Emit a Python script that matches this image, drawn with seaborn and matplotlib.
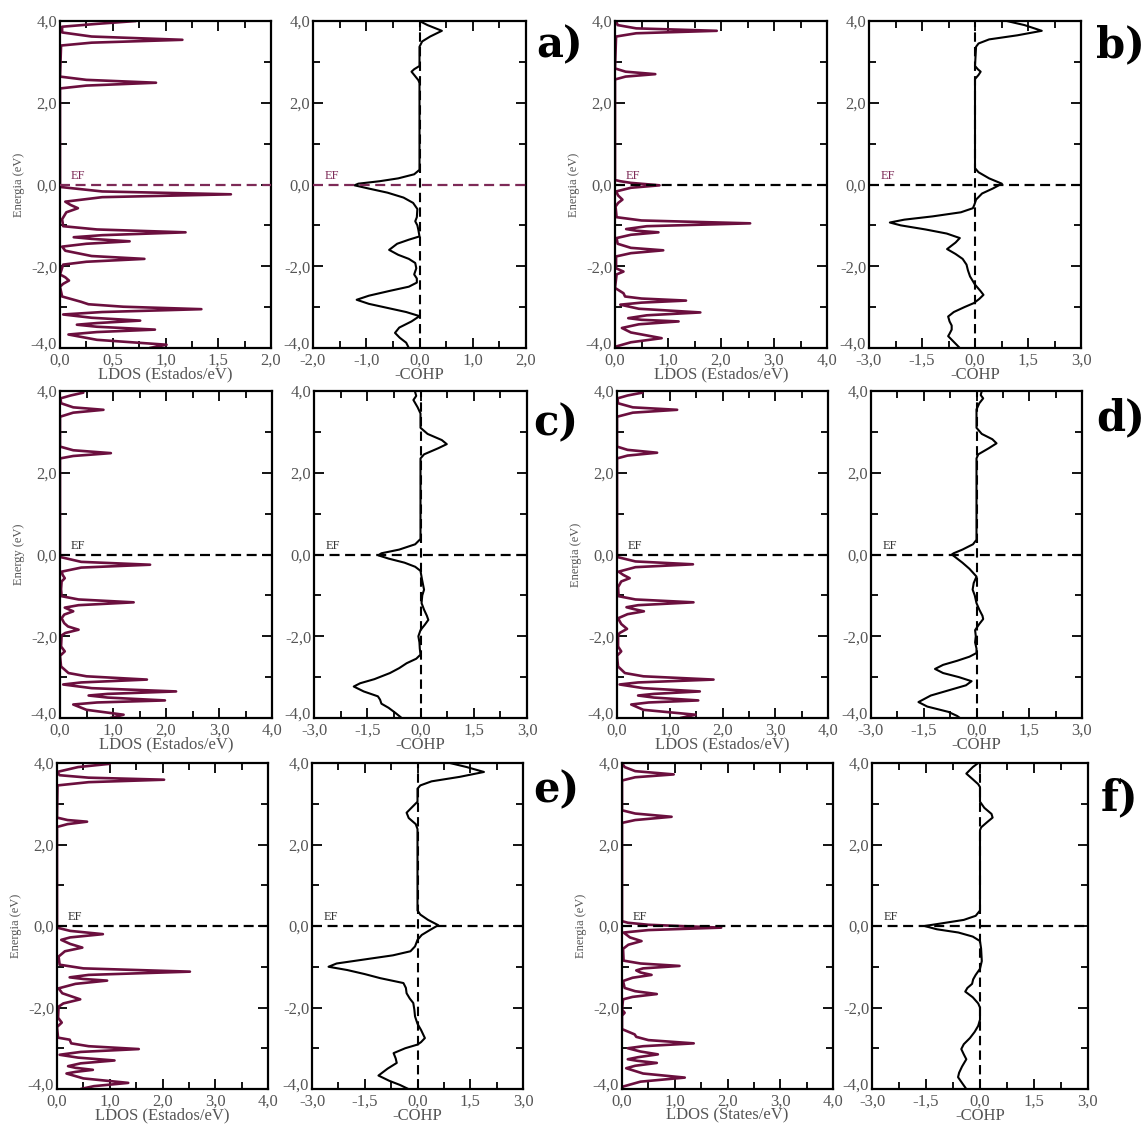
import numpy as np
import pandas as pd
import matplotlib
matplotlib.use("Agg")
import matplotlib.pyplot as plt
import matplotlib.transforms as mtransforms
import seaborn as sns
from matplotlib.ticker import FuncFormatter, MultipleLocator

# ---------------- data (energy in eV, value) ----------------
a_ldos = [(4.0,0.72),(3.93,0.35),(3.86,0.02),(3.72,0.02),(3.62,0.30),(3.54,1.16),(3.47,0.30),(3.40,0.01),
          (2.64,0.0),(2.56,0.25),(2.49,0.91),(2.42,0.25),(2.35,0.0),(-0.06,0.0),(-0.17,0.40),(-0.24,1.62),
          (-0.31,0.40),(-0.42,0.05),(-0.50,0.10),(-0.58,0.17),(-0.68,0.06),(-0.85,0.02),(-1.02,0.03),(-1.10,0.35),
          (-1.17,1.19),(-1.24,0.40),(-1.29,0.13),(-1.33,0.30),(-1.39,0.66),(-1.45,0.25),(-1.52,0.02),(-1.62,0.05),
          (-1.75,0.30),(-1.82,0.80),(-1.89,0.25),(-1.96,0.03),(-2.2,0.0),(-2.27,0.05),(-2.35,0.085),(-2.43,0.03),
          (-2.5,0.0),(-2.74,0.02),(-2.87,0.20),(-2.93,0.27),(-2.99,0.60),(-3.05,1.34),(-3.12,0.40),(-3.18,0.03),
          (-3.26,0.30),(-3.33,0.76),(-3.39,0.35),(-3.43,0.16),(-3.48,0.35),(-3.55,0.90),(-3.61,0.35),(-3.67,0.08),
          (-3.80,0.35),(-3.92,1.01),(-4.0,0.85)]
a_cohp = [(4.0,0.0),(3.9,0.15),(3.76,0.42),(3.62,0.2),(3.5,0.05),(3.37,0.0),(2.9,0.0),(2.82,-0.1),(2.76,-0.15),
          (2.68,-0.1),(2.55,-0.02),(2.48,0.0),(0.36,0.0),(0.25,-0.1),(0.15,-0.4),(0.08,-0.75),(0.02,-1.15),
          (-0.02,-1.22),(-0.1,-0.95),(-0.2,-0.6),(-0.32,-0.3),(-0.45,-0.12),(-0.6,-0.04),(-0.8,-0.05),(-0.9,-0.08),
          (-1.0,-0.04),(-1.12,-0.02),(-1.27,0.0),(-1.35,-0.2),(-1.45,-0.42),(-1.6,-0.57),(-1.72,-0.4),(-1.82,-0.2),
          (-1.92,-0.08),(-2.05,-0.06),(-2.2,-0.1),(-2.3,-0.05),(-2.4,-0.05),(-2.5,-0.2),(-2.6,-0.55),(-2.72,-0.95),
          (-2.82,-1.18),(-2.92,-0.95),(-3.02,-0.6),(-3.12,-0.25),(-3.22,0.0),(-3.35,-0.15),(-3.5,-0.38),(-3.63,-0.46),
          (-3.75,-0.37),(-3.87,-0.25),(-4.0,-0.2)]

b_ldos = [(4.0,0.02),(3.9,0.05),(3.82,0.4),(3.76,1.92),(3.70,0.4),(3.62,0.02),(2.84,0.0),(2.76,0.2),(2.70,0.76),
          (2.64,0.2),(2.57,0.0),(0.11,0.0),(0.08,0.1),(0.04,0.3),(-0.02,0.84),(-0.08,0.3),(-0.17,0.02),(-0.27,0.06),
          (-0.37,0.14),(-0.45,0.06),(-0.54,0.01),(-0.8,0.03),(-0.88,0.5),(-0.95,2.55),(-1.02,0.6),(-1.09,0.21),
          (-1.13,0.4),(-1.17,0.82),(-1.23,0.3),(-1.31,0.03),(-1.45,0.05),(-1.55,0.3),(-1.61,0.91),(-1.68,0.3),
          (-1.76,0.02),(-2.05,0.02),(-2.13,0.16),(-2.2,0.03),(-2.53,0.0),(-2.66,0.16),(-2.74,0.19),(-2.79,0.5),
          (-2.84,1.34),(-2.89,0.5),(-2.94,0.1),(-3.04,0.45),(-3.13,1.61),(-3.2,0.6),(-3.27,0.25),(-3.31,0.5),
          (-3.35,1.2),(-3.42,0.45),(-3.51,0.13),(-3.62,0.3),(-3.76,0.88),(-3.86,0.3),(-3.96,0.03),(-4.0,0.02)]
b_cohp = [(4.0,0.9),(3.9,1.4),(3.76,1.89),(3.65,1.2),(3.55,0.4),(3.45,0.1),(3.37,0.03),(2.9,0.0),(2.82,0.08),
          (2.76,0.16),(2.68,0.1),(2.58,0.0),(0.4,0.0),(0.3,0.1),(0.15,0.4),(0.02,0.76),(-0.1,0.5),(-0.22,0.2),
          (-0.37,0.03),(-0.5,-0.02),(-0.58,-0.06),(-0.68,-0.4),(-0.78,-1.2),(-0.86,-2.0),(-0.93,-2.41),(-1.0,-2.1),
          (-1.1,-1.4),(-1.2,-0.8),(-1.31,-0.43),(-1.42,-0.55),(-1.58,-0.79),(-1.7,-0.55),(-1.82,-0.35),(-1.96,-0.24),
          (-2.1,-0.2),(-2.25,-0.14),(-2.45,0.0),(-2.6,0.15),(-2.7,0.24),(-2.8,0.12),(-2.9,-0.03),(-3.0,-0.3),
          (-3.12,-0.6),(-3.23,-0.76),(-3.35,-0.72),(-3.45,-0.66),(-3.55,-0.66),(-3.65,-0.72),(-3.71,-0.76),
          (-3.85,-0.6),(-4.0,-0.43)]

c_ldos = [(4.0,0.4),(3.96,0.44),(3.89,0.2),(3.82,0.01),(3.7,0.02),(3.6,0.25),(3.54,0.82),(3.47,0.25),(3.37,0.0),
          (2.64,0.0),(2.55,0.25),(2.48,0.96),(2.41,0.25),(2.35,0.0),(-0.06,0.0),(-0.18,0.4),(-0.25,1.70),(-0.32,0.4),
          (-0.42,0.03),(-0.5,0.05),(-0.58,0.09),(-0.66,0.03),(-0.85,0.02),(-1.02,0.03),(-1.1,0.35),(-1.17,1.39),
          (-1.24,0.35),(-1.30,0.09),(-1.39,0.25),(-1.47,0.08),(-1.56,0.03),(-1.68,0.08),(-1.76,0.15),(-1.84,0.35),
          (-1.92,0.1),(-1.98,0.03),(-2.25,0.02),(-2.37,0.09),(-2.48,0.0),(-2.74,0.02),(-2.9,0.16),(-2.98,0.5),
          (-3.06,1.64),(-3.13,0.4),(-3.18,0.06),(-3.27,0.6),(-3.35,2.19),(-3.41,0.9),(-3.45,0.54),(-3.5,0.9),
          (-3.57,1.98),(-3.62,0.7),(-3.67,0.25),(-3.8,0.5),(-3.92,1.2),(-4.0,0.95)]
c_cohp = [(4.0,-0.16),(3.88,-0.12),(3.78,-0.2),(3.6,-0.08),(3.45,0.0),(3.1,0.0),(2.95,0.2),(2.8,0.6),(2.70,0.74),
          (2.6,0.5),(2.45,0.1),(2.35,0.0),(0.38,0.0),(0.25,-0.15),(0.12,-0.6),(0.03,-1.1),(-0.02,-1.19),(-0.1,-0.9),
          (-0.2,-0.45),(-0.3,-0.15),(-0.4,0.0),(-0.6,0.04),(-0.86,0.1),(-1.0,0.05),(-1.19,0.03),(-1.35,0.1),
          (-1.5,0.18),(-1.6,0.22),(-1.72,0.12),(-1.85,0.0),(-2.0,-0.06),(-2.15,-0.03),(-2.3,-0.02),(-2.45,0.0),
          (-2.55,-0.12),(-2.66,-0.39),(-2.78,-0.6),(-2.9,-0.86),(-3.05,-1.3),(-3.15,-1.7),(-3.23,-1.88),(-3.35,-1.6),
          (-3.47,-1.2),(-3.55,-1.14),(-3.65,-1.1),(-3.75,-0.9),(-3.88,-0.7),(-4.0,-0.53)]

d_ldos = [(4.0,0.45),(3.96,0.48),(3.89,0.2),(3.82,0.01),(3.7,0.02),(3.6,0.3),(3.54,1.14),(3.47,0.3),(3.37,0.0),
          (2.64,0.0),(2.56,0.2),(2.49,0.76),(2.42,0.2),(2.35,0.0),(-0.06,0.0),(-0.17,0.35),(-0.24,1.44),(-0.31,0.35),
          (-0.42,0.03),(-0.5,0.12),(-0.58,0.24),(-0.66,0.08),(-0.8,0.02),(-1.02,0.03),(-1.1,0.35),(-1.17,1.45),
          (-1.24,0.4),(-1.29,0.18),(-1.33,0.3),(-1.39,0.51),(-1.46,0.2),(-1.56,0.02),(-1.7,0.08),(-1.82,0.19),
          (-1.92,0.05),(-1.98,0.02),(-2.25,0.02),(-2.37,0.08),(-2.48,0.0),(-2.74,0.02),(-2.9,0.15),(-2.98,0.5),
          (-3.06,1.83),(-3.13,0.4),(-3.18,0.05),(-3.27,0.5),(-3.35,1.57),(-3.41,0.7),(-3.45,0.4),(-3.5,0.7),
          (-3.57,1.54),(-3.62,0.6),(-3.67,0.27),(-3.8,0.5),(-3.92,1.49),(-4.0,1.2)]
d_cohp = [(4.0,0.15),(3.9,0.12),(3.82,0.19),(3.7,0.08),(3.55,0.0),(3.1,0.0),(2.95,0.15),(2.82,0.45),(2.72,0.57),
          (2.6,0.35),(2.45,0.05),(2.35,0.0),(0.36,0.0),(0.25,-0.1),(0.12,-0.4),(0.03,-0.65),(0.0,-0.7),(-0.1,-0.55),
          (-0.2,-0.4),(-0.35,-0.2),(-0.54,0.0),(-0.7,-0.08),(-0.86,-0.11),(-1.0,-0.05),(-1.19,0.0),(-1.35,0.08),
          (-1.5,0.17),(-1.58,0.19),(-1.7,0.08),(-1.85,-0.04),(-2.0,-0.02),(-2.15,-0.04),(-2.3,0.0),(-2.41,0.0),
          (-2.5,-0.2),(-2.6,-0.55),(-2.7,-0.95),(-2.8,-1.18),(-2.9,-0.95),(-3.0,-0.5),(-3.1,-0.14),(-3.2,-0.3),
          (-3.3,-0.7),(-3.45,-1.3),(-3.61,-1.65),(-3.72,-1.4),(-3.85,-0.8),(-3.95,-0.55),(-4.0,-0.47)]

e_ldos = [(4.0,0.9),(3.98,1.0),(3.9,0.4),(3.78,0.0),(3.7,0.05),(3.64,0.6),(3.59,2.03),(3.53,0.6),(3.45,0.01),
          (2.66,0.0),(2.6,0.2),(2.56,0.57),(2.5,0.2),(2.43,0.0),(-0.04,0.0),(-0.12,0.25),(-0.2,0.87),(-0.28,0.25),
          (-0.34,0.08),(-0.44,0.25),(-0.53,0.48),(-0.62,0.15),(-0.75,0.03),(-0.95,0.05),(-1.04,0.5),(-1.12,2.52),
          (-1.2,0.6),(-1.26,0.24),(-1.3,0.5),(-1.34,0.95),(-1.42,0.35),(-1.53,0.03),(-1.65,0.1),(-1.8,0.44),
          (-1.9,0.12),(-1.98,0.03),(-2.25,0.02),(-2.37,0.09),(-2.48,0.0),(-2.74,0.02),(-2.79,0.24),(-2.88,0.27),
          (-2.95,0.6),(-3.02,1.55),(-3.09,0.45),(-3.16,0.05),(-3.23,0.4),(-3.3,1.09),(-3.37,0.45),(-3.44,0.21),
          (-3.48,0.35),(-3.53,0.68),(-3.58,0.35),(-3.62,0.18),(-3.74,0.5),(-3.85,1.35),(-3.93,0.7),(-4.0,0.45)]
e_cohp = [(4.0,0.92),(3.9,1.4),(3.78,1.89),(3.66,1.2),(3.55,0.4),(3.45,0.08),(3.37,0.0),(3.05,0.0),(2.92,-0.15),
          (2.78,-0.31),(2.65,-0.25),(2.5,-0.05),(2.38,0.0),(0.38,0.0),(0.28,0.08),(0.15,0.3),(0.02,0.59),(-0.1,0.35),
          (-0.22,0.12),(-0.34,0.0),(-0.5,-0.07),(-0.62,-0.2),(-0.72,-0.7),(-0.82,-1.5),(-0.92,-2.3),(-1.0,-2.53),
          (-1.08,-2.0),(-1.18,-1.5),(-1.28,-1.06),(-1.4,-0.4),(-1.52,-0.33),(-1.65,-0.31),(-1.78,-0.22),(-1.89,-0.12),
          (-2.05,-0.09),(-2.22,-0.07),(-2.4,0.0),(-2.55,0.1),(-2.75,0.21),(-2.85,0.1),(-2.91,0.0),(-3.0,-0.35),
          (-3.12,-0.68),(-3.25,-0.62),(-3.36,-0.59),(-3.5,-0.85),(-3.67,-1.11),(-3.8,-0.8),(-3.9,-0.5),(-4.0,-0.26)]

f_ldos = [(4.0,0.0),(3.9,0.05),(3.8,0.25),(3.72,0.98),(3.65,0.25),(3.57,0.0),(2.84,0.0),(2.76,0.25),(2.68,0.94),
          (2.6,0.25),(2.53,0.0),(0.12,0.0),(0.08,0.11),(0.03,0.5),(-0.04,1.88),(-0.1,0.5),(-0.16,0.03),(-0.28,0.15),
          (-0.37,0.37),(-0.46,0.12),(-0.56,0.02),(-0.85,0.03),(-0.92,0.35),(-0.98,1.09),(-1.04,0.4),(-1.09,0.27),
          (-1.14,0.35),(-1.2,0.56),(-1.27,0.2),(-1.35,0.02),(-1.52,0.05),(-1.6,0.25),(-1.67,0.66),(-1.74,0.2),
          (-1.8,0.02),(-2.05,0.0),(-2.13,0.05),(-2.2,0.0),(-2.53,0.0),(-2.66,0.24),(-2.72,0.27),(-2.8,0.5),
          (-2.88,1.36),(-2.95,0.4),(-3.0,0.11),(-3.08,0.35),(-3.15,0.68),(-3.22,0.3),(-3.27,0.11),(-3.31,0.3),
          (-3.36,0.66),(-3.43,0.25),(-3.49,0.08),(-3.62,0.4),(-3.72,1.19),(-3.82,0.35),(-3.94,0.02),(-4.0,0.0)]
f_cohp = [(4.0,-0.05),(3.9,-0.2),(3.74,-0.38),(3.6,-0.2),(3.48,-0.05),(3.41,0.0),(3.05,0.0),(2.9,0.12),(2.75,0.32),
          (2.66,0.35),(2.55,0.2),(2.42,0.03),(2.35,0.0),(0.38,0.0),(0.25,-0.12),(0.15,-0.45),(0.06,-1.1),(0.0,-1.54),
          (-0.08,-1.2),(-0.16,-0.6),(-0.26,-0.2),(-0.37,0.0),(-0.55,0.03),(-0.86,0.05),(-1.05,0.0),(-1.2,-0.12),
          (-1.31,-0.19),(-1.42,-0.22),(-1.52,-0.35),(-1.61,-0.41),(-1.75,-0.2),(-1.9,-0.05),(-2.0,0.0),(-2.3,0.0),
          (-2.45,-0.05),(-2.6,-0.15),(-2.75,-0.28),(-2.9,-0.45),(-3.02,-0.52),(-3.15,-0.45),(-3.27,-0.38),
          (-3.45,-0.5),(-3.6,-0.58),(-3.71,-0.61),(-3.85,-0.5),(-4.0,-0.38)]

panel_letters = ["a)", "b)", "c)", "d)", "e)", "f)"]
ldos_xlabels = ["LDOS (Estados/eV)"] * 5 + ["LDOS (States/eV)"]
ylabels = ["Energia (eV)", "Energia (eV)", "Energy (eV)", "Energia (eV)", "Energia (eV)", "Energia (eV)"]
cohp_xlabel = "-COHP"

# ---------------- style ----------------
sns.set_theme(style="ticks")
plt.rcParams["font.family"] = ["Liberation Serif", "DejaVu Serif"]

W, H = 1146, 1124
fig = plt.figure(figsize=(W / 100, H / 100), dpi=100)

LDOS_COLOR = "#6b0f3e"
EF_PURPLE = "#7d2a57"
GRAY = "#555555"

def comma(v, pos):
    s = f"{v:.1f}".replace(".", ",")
    return "0,0" if s == "-0,0" else s

rows = [(21, 348), (391, 718), (763, 1089)]
cols = [[(60, 271), (313, 526), (615, 827), (869, 1081)],
        [(60, 272), (314, 527), (617, 828), (871, 1082)],
        [(57, 268), (312, 523), (622, 833), (872, 1088)]]
letter_pos = [(536, 45), (1096, 45), (533, 423), (1096, 418), (533, 790), (1101, 798)]

panels = [(a_ldos, a_cohp), (b_ldos, b_cohp), (c_ldos, c_cohp),
          (d_ldos, d_cohp), (e_ldos, e_cohp), (f_ldos, f_cohp)]

def make_ax(px, row):
    (l, r), (t, b) = px, rows[row]
    return fig.add_axes([l / W, 1 - b / H, (r - l) / W, (b - t) / H])

lift = mtransforms.ScaledTranslation(0, 5 / 100, fig.dpi_scale_trans)

def style_ax(ax, xlim, xmaj, xmin):
    ax.set_xlim(*xlim)
    ax.set_ylim(-4, 4)
    ax.xaxis.set_major_locator(MultipleLocator(xmaj))
    ax.xaxis.set_minor_locator(MultipleLocator(xmin))
    ax.yaxis.set_major_locator(MultipleLocator(2))
    ax.yaxis.set_minor_locator(MultipleLocator(1))
    ax.xaxis.set_major_formatter(FuncFormatter(comma))
    ax.yaxis.set_major_formatter(FuncFormatter(comma))
    ax.tick_params(which="both", direction="in", top=True, right=True,
                   color="black", labelcolor=GRAY, labelsize=12, width=1.3)
    ax.tick_params(axis="x", which="major", pad=3)
    ax.tick_params(axis="y", which="major", pad=2)
    ax.tick_params(which="major", length=7)
    ax.tick_params(which="minor", length=5)
    for s in ax.spines.values():
        s.set_linewidth(1.6)
        s.set_color("black")
    # lift the bottom y tick label slightly so it clears the x tick labels
    locs = list(ax.yaxis.get_majorticklocs())
    ticks = ax.yaxis.get_major_ticks(len(locs))
    idx = min(range(len(locs)), key=lambda k: abs(locs[k] + 4.0))
    lab = ticks[idx].label1
    lab.set_transform(lab.get_transform() + lift)

dash = (0, (4.5, 2.5))

for i, (ldos, cohp) in enumerate(panels):
    row = i // 2
    c0 = (i % 2) * 2
    # LDOS
    ax1 = make_ax(cols[row][c0], row)
    df1 = pd.DataFrame(ldos, columns=["E", "v"])
    sns.lineplot(data=df1, x="v", y="E", sort=False, estimator=None,
                 color=LDOS_COLOR, lw=1.9, ax=ax1)
    ef_line_color = EF_PURPLE if i == 0 else "black"
    ef_text_color = EF_PURPLE if i in (0, 1) else "#333333"
    ax1.axhline(0, color=ef_line_color, lw=1.6, ls=dash, zorder=3)
    if i == 0:
        style_ax(ax1, (0, 2), 0.5, 0.25)
    else:
        style_ax(ax1, (0, 4), 1.0, 0.5)
    tr = mtransforms.blended_transform_factory(ax1.transAxes, ax1.transData)
    ax1.text(0.05, 0.07, "EF", transform=tr, color=ef_text_color, fontsize=9, va="bottom")
    ax1.set_xlabel(ldos_xlabels[i], fontsize=12, color=GRAY, labelpad=-1)
    ax1.set_ylabel(ylabels[i], fontsize=9, color=GRAY, labelpad=4)

    # COHP
    ax2 = make_ax(cols[row][c0 + 1], row)
    df2 = pd.DataFrame(cohp, columns=["E", "v"])
    sns.lineplot(data=df2, x="v", y="E", sort=False, estimator=None,
                 color="black", lw=1.5, ax=ax2)
    ax2.axvline(0, color="black", lw=1.5, ls=dash, zorder=3)
    ax2.axhline(0, color=ef_line_color, lw=1.6, ls=dash, zorder=3)
    if i == 0:
        style_ax(ax2, (-2, 2), 1.0, 0.5)
    else:
        style_ax(ax2, (-3, 3), 1.5, 0.75)
    tr2 = mtransforms.blended_transform_factory(ax2.transAxes, ax2.transData)
    ax2.text(0.055, 0.07, "EF", transform=tr2, color=ef_text_color, fontsize=9, va="bottom")
    ax2.set_xlabel(cohp_xlabel, fontsize=12, color=GRAY, labelpad=-1)
    ax2.set_ylabel("")

    lx, ly = letter_pos[i]
    fig.text(lx / W, 1 - ly / H, panel_letters[i], fontsize=30, fontweight="bold",
             family="DejaVu Serif", va="center", ha="left", color="black")

fig.savefig("out.png", dpi=100)
